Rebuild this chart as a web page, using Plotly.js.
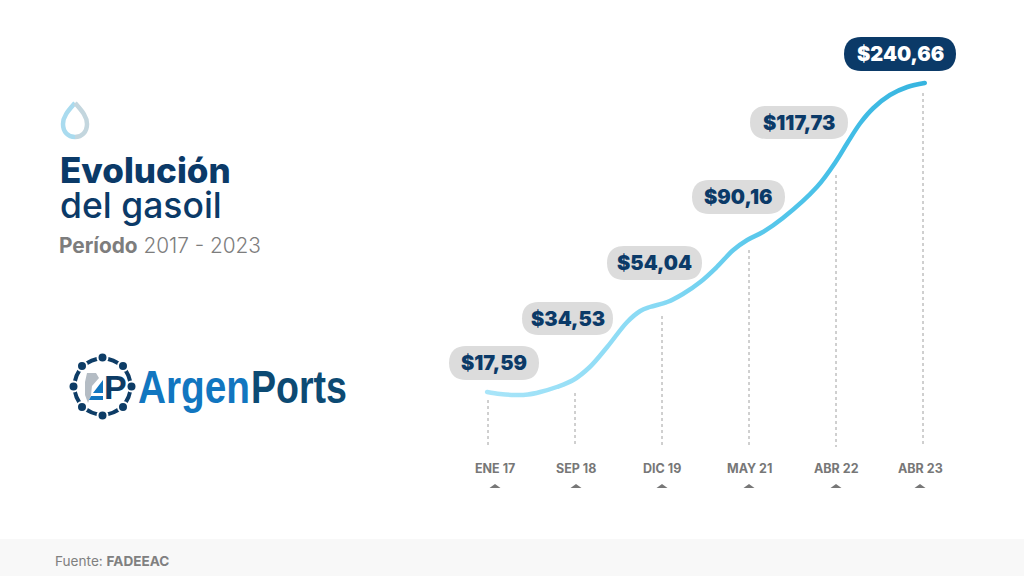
<!DOCTYPE html>
<html><head><meta charset="utf-8">
<script src="https://cdn.plot.ly/plotly-3.0.1.min.js"></script>
<style>html,body{margin:0;padding:0;background:#fff}#c{width:1024px;height:576px}</style>
</head><body><div id="c"></div>
<script>
// ---- data ----
const categories = ["ENE 17","SEP 18","DIC 19","MAY 21","ABR 22","ABR 23"];
const valueLabels = ["$17,59","$34,53","$54,04","$90,16","$117,73","$240,66"];
// the curve is illustrative (not proportional to price): position by category index, height in chart units
const curveX = [-0.01,0.14,0.31,0.46,0.60,0.79,0.98,1.17,1.37,1.60,1.75,1.86,2.06,2.24,2.44,2.63,2.82,2.98,3.16,3.39,3.78,4.01,4.13,4.28,4.43,4.62,4.82,5.02];
const curveY = [184,182,181,181.5,184,189,196,209,229,254,265,269,274,282,294,309,326,336,344,358,389,416,433,453,468,481,489,493];
// height where each dashed guide starts (chart units)
const guideTop = [176,183,260,326,401,483];
const guideBottom = 129;

// ---- presentation ----
const gradientStops = [[0,'#a9e5f9'],[0.4,'#86d9f4'],[0.6,'#5cc9ec'],[0.8,'#45bfe7'],[1,'#36b4df']];
const pillBox = [[449,539,346,380],[522,613,302,335],[607,702,246,280],[692,785,180,214],[750,848,106,139],[844,956,37,71]];
const tickLabelShift = [7,1,0,0,0,-3];
const navy = '#0b3a68', F = '"Inter","Open Sans",sans-serif', LF = '"Liberation Sans"';
const W = 1024, H = 576, step = 87, x0 = 488;
const toX = p => (p - x0) / step;
const pxX = p => p / W, pxY = p => 1 - p / H;

const traces = [];
categories.forEach((c, i) => traces.push({
  x: [i, i], y: [guideTop[i], guideBottom], mode: 'lines', hoverinfo: 'skip', showlegend: false,
  line: {color: '#a0a0a0', width: 1, dash: '3px,3px'}
}));
traces.push({
  x: curveX, y: curveY, mode: 'lines', hoverinfo: 'skip', showlegend: false,
  line: {color: '#6accee', width: 4.5, shape: 'spline', smoothing: 1}
});

function pill(b, color) {
  const w = (b[1] - b[0]) / 2, h = (b[3] - b[2]) / 2, k = h * 0.45;
  const path = `M${-w + h},${-h} L${w - h},${-h} C${w - k},${-h} ${w},${-h + k - 3} ${w},0 C${w},${h - k + 3} ${w - k},${h} ${w - h},${h} L${-w + h},${h} C${-w + k},${h} ${-w},${h - k + 3} ${-w},0 C${-w},${-h + k - 3} ${-w + k},${-h} ${-w + h},${-h} Z`;
  return {type: 'path', xref: 'x', yref: 'y', xsizemode: 'pixel', ysizemode: 'pixel',
    xanchor: toX((b[0] + b[1]) / 2), yanchor: H - (b[2] + b[3]) / 2, path, fillcolor: color, line: {width: 0}, layer: 'below'};
}
const shapes = [
  {type: 'rect', xref: 'paper', yref: 'paper', x0: 0, x1: 1, y0: 0, y1: pxY(539), fillcolor: '#f8f8f8', line: {width: 0}, layer: 'below'}
];
pillBox.forEach((b, i) => shapes.push(pill(b, i === 5 ? navy : '#dcdcdc')));
categories.forEach((c, i) => shapes.push({
  type: 'path', xref: 'x', yref: 'y', xsizemode: 'pixel', ysizemode: 'pixel',
  xanchor: i + tickLabelShift[i] / step, yanchor: H - 488, path: 'M-5.5,0 L5.5,0 L0,4 Z', fillcolor: '#777', line: {width: 0}
}));

// drop icon
const P = (x, y) => `${pxX(x)},${pxY(y)}`;
const paperShape = o => Object.assign({xref: 'paper', yref: 'paper'}, o);
shapes.push(paperShape({type: 'path', line: {color: '#a9dbef', width: 4.5},
  path: `M${P(75,103)} C${P(69,110)} ${P(63,116)} ${P(63,124)} C${P(63,132)} ${P(68,137)} ${P(75,137)}`}));
shapes.push(paperShape({type: 'path', line: {color: '#c3d6de', width: 4.5},
  path: `M${P(75,137)} C${P(82,137)} ${P(87,132)} ${P(87,124)} C${P(87,116)} ${P(81,110)} ${P(75,103)}`}));

// logo emblem
const cx = 102.5, cy = 386.5, R = 28;
shapes.push(paperShape({type: 'circle', x0: pxX(cx - R), x1: pxX(cx + R), y0: pxY(cy + R), y1: pxY(cy - R),
  line: {color: '#0d3c66', width: 4}}));
const dots = [[102.5,357.5],[123,366],[131.5,386.5],[123,407],[102.5,415.5],[82,407],[73.5,386.5],[82,366]];
dots.forEach(d => shapes.push(paperShape({type: 'circle',
  x0: pxX(d[0] - 5), x1: pxX(d[0] + 5), y0: pxY(d[1] + 5), y1: pxY(d[1] - 5),
  fillcolor: '#0d3c66', line: {color: '#fff', width: 2}})));
// grey silhouette and blue "4" inside the emblem
shapes.push(paperShape({type: 'path', fillcolor: '#b4bcc4', line: {width: 0},
  path: `M${P(87,373)} L${P(96,373)} L${P(99,378)} L${P(92,386)} L${P(91,395)} L${P(88,403)} L${P(85,395)} L${P(85,382)} Z`}));
shapes.push(paperShape({type: 'path', fillcolor: '#1176c0', line: {width: 0},
  path: `M${P(103,380)} L${P(103,393)} L${P(93,393)} Z`}));
shapes.push(paperShape({type: 'path', fillcolor: '#1176c0', line: {width: 0},
  path: `M${P(91,396)} L${P(103,396)} L${P(103,400)} L${P(89,400)} Z`}));

const note = (x, y, text, size, color, weight, opts) => Object.assign({
  xref: 'paper', yref: 'paper', x: pxX(x), y: pxY(y), text, showarrow: false, xanchor: 'left', yanchor: 'middle',
  font: {family: F, size, color, weight}, borderpad: 0
}, opts || {});

const annotations = [
  note(59, 170, 'Evolución', 35, navy, 800),
  note(59, 205, 'del gasoil', 35.5, navy, 500),
  note(58, 245, '<b>Período</b> 2017 - 2023', 20.8, '#7d7d7d', 300),
  note(54, 561, 'Fuente: <b>FADEEAC</b>', 13.6, '#808080', 400),
  note(194, 386, 'Argen', 47, '#1176c0', 700, {xanchor: 'center', width: 112, borderwidth: 0, font: {family: LF, size: 47, color: '#1176c0', weight: 700}}),
  note(298.5, 386, 'Ports', 47, '#0c4a73', 700, {xanchor: 'center', width: 96, borderwidth: 0, font: {family: LF, size: 47, color: '#0c4a73', weight: 700}}),
  note(103, 387, 'P', 34, '#0d3c66', 700, {font: {family: LF, size: 34, color: '#0d3c66', weight: 700}})
];
valueLabels.forEach((t, i) => {
  const b = pillBox[i];
  annotations.push({xref: 'x', yref: 'y', x: toX((b[0] + b[1]) / 2), y: H - (b[2] + b[3]) / 2, text: t, showarrow: false,
    xanchor: 'center', yanchor: 'middle', font: {family: F, size: 20, color: i === 5 ? '#fff' : navy, weight: 900}});
});
categories.forEach((c, i) => annotations.push({xref: 'x', yref: 'y', x: i, y: H - 468, xshift: tickLabelShift[i], text: c, showarrow: false,
  xanchor: 'center', yanchor: 'middle', font: {family: F, size: 12.5, color: '#777', weight: 700}}));

const layout = {
  width: W, height: H, margin: {l: 0, r: 0, t: 0, b: 0}, paper_bgcolor: '#fff', plot_bgcolor: 'rgba(0,0,0,0)', showlegend: false,
  xaxis: {range: [toX(0), toX(W)], visible: false, fixedrange: true},
  yaxis: {range: [0, H], visible: false, fixedrange: true},
  shapes, annotations
};
Plotly.newPlot('c', traces, layout, {displayModeBar: false, staticPlot: true}).then(gd => {
  // colour the library's curve with a left-to-right gradient
  const lines = gd.querySelectorAll('.scatterlayer .trace path.js-line');
  const curve = lines[lines.length - 1];
  const svg = curve.ownerSVGElement, NS = 'http://www.w3.org/2000/svg';
  const g = document.createElementNS(NS, 'linearGradient');
  g.setAttribute('id', 'curveGrad'); g.setAttribute('gradientUnits', 'userSpaceOnUse');
  g.setAttribute('x1', 487); g.setAttribute('x2', 925); g.setAttribute('y1', 0); g.setAttribute('y2', 0);
  gradientStops.forEach(s => {
    const st = document.createElementNS(NS, 'stop');
    st.setAttribute('offset', s[0]); st.setAttribute('stop-color', s[1]); g.appendChild(st);
  });
  svg.querySelector('defs').appendChild(g);
  curve.style.stroke = 'url(#curveGrad)';
  curve.style.strokeLinecap = 'round';
  // condense the wordmark to the logo's proportions
  const widths = {Argen: 112, Ports: 96};
  gd.querySelectorAll('.annotation-text').forEach(t => {
    const w = widths[t.textContent];
    if (w) { t.setAttribute('textLength', w); t.setAttribute('lengthAdjust', 'spacingAndGlyphs'); }
  });
});
</script></body></html>
